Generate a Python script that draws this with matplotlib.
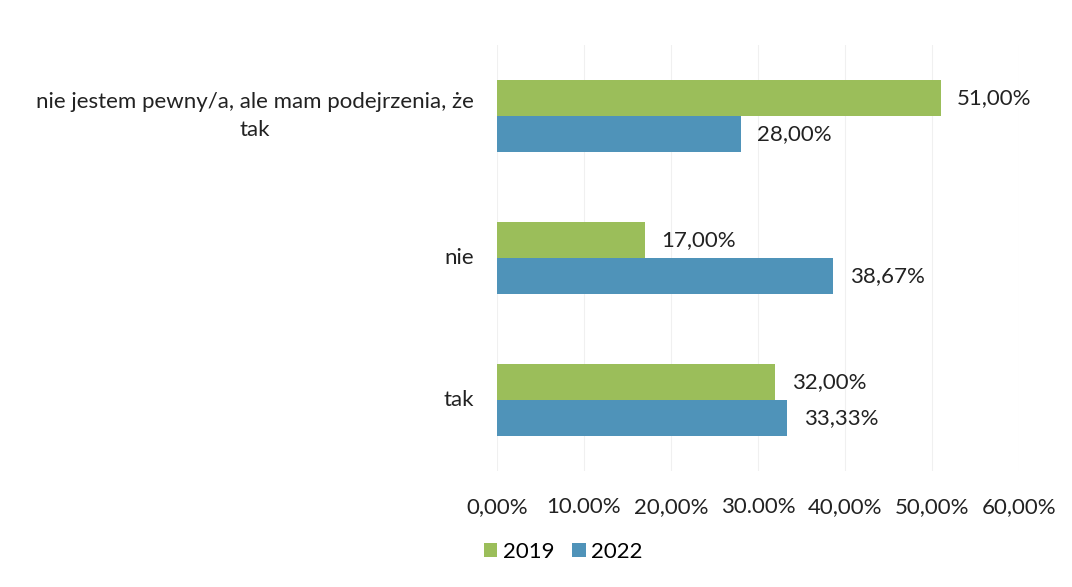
import numpy as np
import matplotlib.pyplot as plt

categories = ["tak", "nie", "nie jestem pewny/a, ale mam podejrzenia, że\ntak"]
vals_2019 = [32.00, 17.00, 51.00]
vals_2022 = [33.33, 38.67, 28.00]
tick_vals = [0, 10, 20, 30, 40, 50, 60]
tick_labels = ["0,00%", "10.00%", "20,00%", "30.00%", "40,00%", "50,00%", "60,00%"]

green = "#9bbe5a"
blue = "#4f93b9"
txt = "#222222"
plt.rcParams['font.family'] = ['Lato', 'DejaVu Sans']

fig = plt.figure(figsize=(10.72, 5.87), dpi=100)
ax = fig.add_axes([0.4636, 0.1976, 0.487, 0.7257])

y = np.arange(len(categories))
h = 0.2535
ax.barh(y + h/2, vals_2019, height=h, color=green, label="2019")
ax.barh(y - h/2, vals_2022, height=h, color=blue, label="2022")

for yy, v in zip(y + h/2, vals_2019):
    ax.text(v + 1.9, yy, f"{v:.2f}%".replace(".", ","), va="center", ha="left",
            fontsize=16, color=txt)
for yy, v in zip(y - h/2, vals_2022):
    ax.text(v + 1.9, yy, f"{v:.2f}%".replace(".", ","), va="center", ha="left",
            fontsize=16, color=txt)

ax.set_xlim(0, 60)
ax.set_ylim(-0.5, 2.5)
ax.set_xticks(tick_vals)
ax.set_xticklabels(tick_labels, fontsize=16, color=txt)
ax.tick_params(axis="x", length=0, pad=19)
ax.set_yticks([])

# category labels, right-aligned, lines centred
for yy, lab in zip(y, categories):
    ax.text(-0.044, yy, lab, transform=ax.get_yaxis_transform(), ha="right",
            va="center", multialignment="center", fontsize=16, color=txt,
            linespacing=1.55)

ax.grid(axis="x", color="#f0f0f0", linewidth=0.8)
ax.set_axisbelow(True)
for s in ax.spines.values():
    s.set_visible(False)

ax.legend(loc="center", bbox_to_anchor=(0.127, -0.19), ncol=2, frameon=False,
          fontsize=16, handlelength=0.6, handleheight=0.6, handletextpad=0.25,
          columnspacing=0.8)

fig.savefig("out.png", dpi=100)
